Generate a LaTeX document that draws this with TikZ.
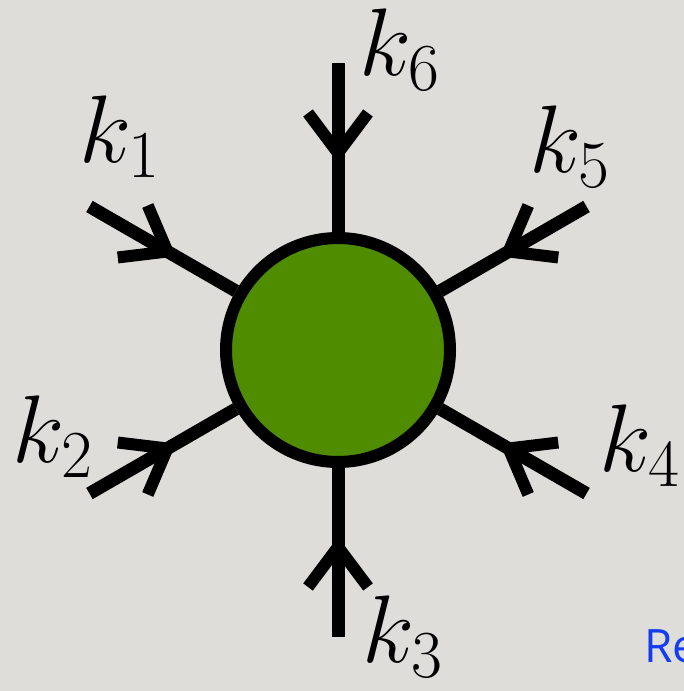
\RequirePackage{fix-cm}
\documentclass[tikz,border=0pt]{standalone}
\usepackage{fontspec}
\usetikzlibrary{calc}
\newfontfamily\refont{Open Sans}
\definecolor{bgc}{RGB}{222,221,218}
\definecolor{blobc}{RGB}{80,140,0}
\definecolor{rec}{RGB}{20,60,240}
\tikzset{
  leg/.style={line width=13pt, line cap=butt},
  chev/.style={line width=12pt, line cap=butt, line join=miter},
  lab/.style={anchor=base west, inner sep=0pt, font=\fontsize{96}{96}\selectfont},
  blob/.style={circle, draw, line width=12pt, fill=blobc, minimum size=224pt, inner sep=0pt}
}
\begin{document}
\begin{tikzpicture}[x=1pt,y=1pt]
\useasboundingbox (0,0) rectangle (684,691);
\clip (0,0) rectangle (684,691);
\fill[bgc] (0,0) rectangle (684,691);
\node[blob] (c) at (338,341) {};
\foreach \a/\n in {150/1,210/2,270/3,330/4,30/5,90/6} {
  \coordinate (e\n) at ($(c.center)+(\a:287)$);
  \draw[leg] (e\n) -- (c);
  \begin{scope}[shift={(c.center)}, rotate=\a]
    \draw[chev] (237,30) -- (197,0) -- (237,-30);
  \end{scope}
}
\node[lab] (k6) at (359,615) {$k_6$};
\node[lab] (k1) at (79,528) {$k_1$};
\node[lab] (k5) at (529,518) {$k_5$};
\node[lab] (k2) at (12,228) {$k_2$};
\node[lab] (k4) at (599,219) {$k_4$};
\node[lab] (k3) at (362,28) {$k_3$};
\node[anchor=base west, inner sep=0pt, text=rec, font=\refont\fontsize{46}{46}\selectfont] (re) at (644,28) {Re};
\end{tikzpicture}
\end{document}
